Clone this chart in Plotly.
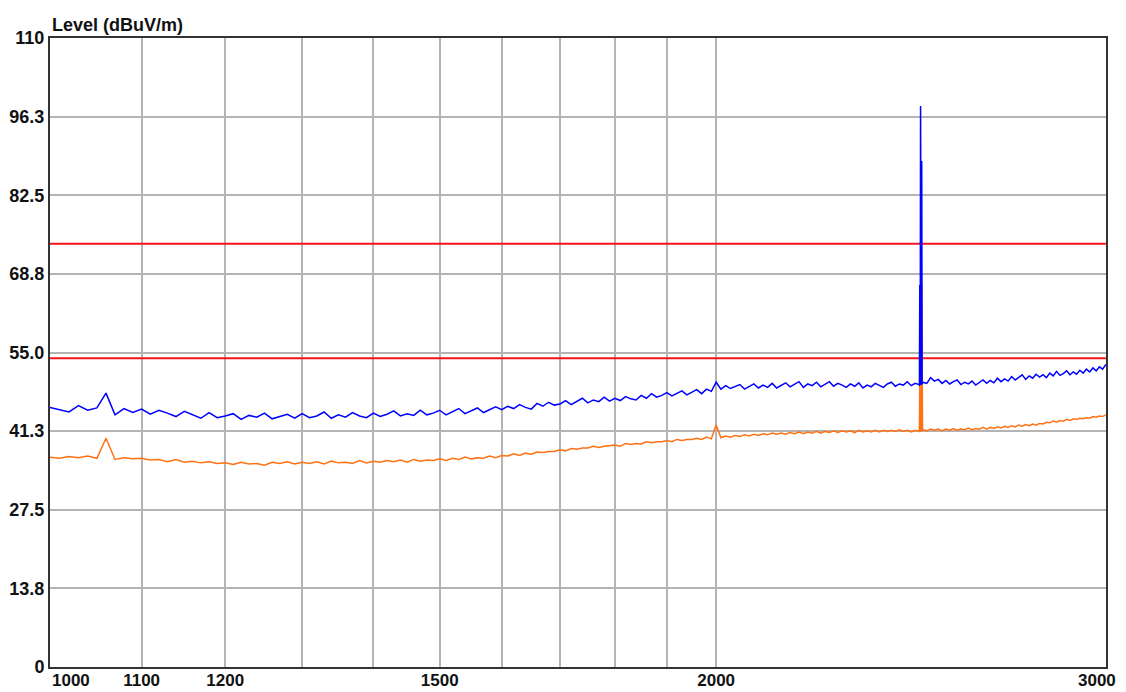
import numpy as np
import plotly.graph_objects as go

# ---------------- data ----------------
freq_start, freq_stop, freq_step = 1000, 3000, 10   # MHz sweep grid

# blue trace (peak), one value per 10 MHz from 1000 to 3000
blue_values = [
    45.4, 45.0, 44.6, 45.7, 44.9, 45.3, 47.9, 44.1, 45.2, 44.5,   # 1000
    45.1, 44.2, 44.9, 44.4, 43.8, 44.7, 44.1, 43.5, 44.5, 43.6,   # 1100
    43.9, 44.3, 43.3, 44.0, 43.7, 44.4, 43.4, 43.8, 44.2, 43.5,   # 1200
    44.3, 43.6, 43.9, 44.6, 43.5, 44.1, 43.7, 44.5, 43.9, 43.6,   # 1300
    44.4, 43.8, 44.2, 44.8, 43.9, 44.3, 44.0, 44.9, 44.1, 44.4,   # 1400
    44.9, 44.1, 44.6, 45.2, 44.3, 44.8, 45.3, 44.5, 45.0, 45.5,   # 1500
    45.0, 45.6, 45.2, 45.9, 45.4, 45.1, 46.1, 45.6, 46.3, 45.8,   # 1600
    46.0, 46.6, 45.9, 46.4, 47.0, 46.2, 46.7, 46.4, 47.2, 46.5,   # 1700
    47.0, 46.6, 47.3, 46.9, 46.7, 47.5, 47.0, 47.8, 47.2, 47.5,   # 1800
    48.0, 47.4, 47.9, 48.3, 47.6, 48.1, 48.5, 47.8, 48.6, 48.2,   # 1900
    49.8, 48.6, 49.2, 48.7, 49.0, 49.4, 48.6, 49.1, 49.5, 48.8,   # 2000
    49.3, 48.9, 49.6, 48.8, 49.2, 49.7, 49.0, 49.4, 49.9, 48.9,   # 2100
    49.5, 49.2, 49.8, 49.0, 49.4, 49.9, 49.1, 49.6, 49.3, 48.9,   # 2200
    49.5, 49.1, 49.7, 48.8, 49.3, 49.0, 49.6, 49.2, 48.9, 49.5,   # 2300
    49.8, 49.1, 49.5, 49.3, 49.9, 49.2, 49.6, 49.4, 49.8, 49.6,   # 2400
    50.6, 50.0, 50.3, 49.6, 50.1, 49.5, 49.9, 50.2, 49.4, 49.8,   # 2500
    49.5, 50.0, 49.3, 49.8, 50.2, 49.6, 50.1, 49.7, 50.5, 49.9,   # 2600
    50.4, 50.0, 50.8, 50.2, 50.6, 51.1, 50.3, 50.9, 50.5, 51.2,   # 2700
    50.7, 51.1, 50.6, 51.4, 50.9, 51.7, 51.0, 51.3, 51.8, 51.1,   # 2800
    51.6, 51.2, 51.9, 51.4, 52.1, 51.6, 52.3, 51.8, 52.5, 52.1,   # 2900
    52.9,                                                         # 3000
]

# orange trace (average), one value per 10 MHz from 1000 to 3000
orange_values = [
    36.7, 36.5, 36.8, 36.6, 36.9, 36.5, 40.0, 36.3, 36.6, 36.4,   # 1000
    36.5, 36.2, 36.3, 35.9, 36.3, 35.8, 36.0, 35.7, 35.9, 35.6,   # 1100
    35.7, 35.4, 35.8, 35.5, 35.6, 35.3, 35.8, 35.6, 35.9, 35.5,   # 1200
    35.8, 35.6, 35.9, 35.5, 36.0, 35.7, 35.8, 35.6, 36.1, 35.7,   # 1300
    36.0, 35.8, 36.1, 35.9, 36.2, 35.8, 36.3, 36.0, 36.2, 36.1,   # 1400
    36.4, 36.1, 36.5, 36.3, 36.7, 36.4, 36.6, 36.5, 36.9, 36.6,   # 1500
    37.0, 36.9, 37.3, 37.0, 37.4, 37.2, 37.6, 37.5, 37.7, 37.7,   # 1600
    38.0, 37.8, 38.2, 38.1, 38.3, 38.3, 38.6, 38.4, 38.6, 38.7,   # 1700
    38.8, 38.6, 39.1, 38.9, 39.1, 39.0, 39.4, 39.2, 39.4, 39.4,   # 1800
    39.6, 39.4, 39.8, 39.6, 39.8, 39.8, 40.0, 39.8, 40.2, 39.9,   # 1900
    42.3, 40.1, 40.4, 40.2, 40.5, 40.3, 40.6, 40.4, 40.7, 40.5,   # 2000
    40.8, 40.6, 40.9, 40.7, 40.9, 40.7, 41.0, 40.8, 41.1, 40.8,   # 2100
    41.1, 40.9, 41.2, 40.9, 41.2, 41.0, 41.3, 41.0, 41.3, 41.1,   # 2200
    41.3, 41.0, 41.4, 41.1, 41.3, 41.1, 41.4, 41.1, 41.4, 41.2,   # 2300
    41.4, 41.2, 41.5, 41.2, 41.4, 41.1, 41.4, 41.2, 41.5, 41.3,   # 2400
    41.6, 41.4, 41.6, 41.3, 41.6, 41.4, 41.7, 41.4, 41.6, 41.5,   # 2500
    41.8, 41.5, 41.7, 41.6, 41.9, 41.6, 41.9, 41.7, 42.0, 41.8,   # 2600
    42.1, 41.9, 42.2, 42.0, 42.3, 42.1, 42.4, 42.2, 42.5, 42.3,   # 2700
    42.6, 42.5, 42.8, 42.7, 43.0, 42.8, 43.1, 43.0, 43.3, 43.1,   # 2800
    43.4, 43.3, 43.5, 43.4, 43.6, 43.5, 43.8, 43.7, 43.9, 43.8,   # 2900
    44.1,                                                         # 3000
]

# narrow emission around 2.47-2.48 GHz (extra sweep points)
spike_freq = [2471, 2472, 2473, 2474, 2475, 2476, 2477, 2478, 2479]
blue_spike = [49.2, 66.8, 49.3, 98.1, 49.4, 49.3, 88.5, 49.5, 49.6]
orange_spike = [41.2, 49.7, 41.3, 41.2, 41.3, 41.3, 66.8, 41.4, 41.3]

# limit lines (dBuV/m)
limit_freq = [1000, 3000]
limit_peak = [74.0, 74.0]
limit_avg = [54.0, 54.0]

# axes ticks
x_tickvals = [1000, 1100, 1200, 1300, 1400, 1500, 1600, 1700, 1800, 1900, 2000, 3000]
x_ticktext = ["", "1100", "1200", "", "", "1500", "", "", "", "", "2000", ""]
x_edge_labels = ["1000", "3000"]   # drawn as annotations so they stay inside the page
y_tickvals = [0, 13.75, 27.5, 41.25, 55.0, 68.75, 82.5, 96.25, 110]
y_ticktext = ["0", "13.8", "27.5", "41.3", "55.0", "68.8", "82.5", "96.3", "110"]

# ---------------- build ----------------
grid_freq = list(range(freq_start, freq_stop + 1, freq_step))
assert len(grid_freq) == len(blue_values) == len(orange_values)

f_all = np.array(grid_freq + spike_freq, dtype=float)
order = np.argsort(f_all, kind="stable")
f_all = f_all[order]
blue_all = np.array(blue_values + blue_spike)[order]
orange_all = np.array(orange_values + orange_spike)[order]

FONT = "Liberation Sans, Arial, sans-serif"
RED = "#f5141e"
BLUE = "#0000ff"
ORANGE = "#ff7214"
TXT = "#111111"

fig = go.Figure()
fig.add_trace(go.Scatter(x=limit_freq, y=limit_peak, mode="lines",
                         line=dict(color=RED, width=2), hoverinfo="skip"))
fig.add_trace(go.Scatter(x=limit_freq, y=limit_avg, mode="lines",
                         line=dict(color=RED, width=2), hoverinfo="skip"))
fig.add_trace(go.Scatter(x=f_all, y=orange_all, mode="lines",
                         line=dict(color=ORANGE, width=1.5)))
fig.add_trace(go.Scatter(x=f_all, y=blue_all, mode="lines",
                         line=dict(color=BLUE, width=1.5)))

# page body adds an 8 px offset at top/left, so the figure is 8 px smaller
fig.update_layout(
    width=1118, height=684,
    margin=dict(l=42, r=20, t=30, b=25),
    paper_bgcolor="white", plot_bgcolor="white",
    showlegend=False,
    font=dict(family=FONT, size=18, color=TXT),
    xaxis=dict(
        type="log", range=[np.log10(1000), np.log10(3000.5)],
        tickvals=x_tickvals, ticktext=x_ticktext,
        tickfont=dict(family=FONT, size=17, color=TXT, weight="bold"),
        ticklabelstandoff=-3,
        showgrid=True, gridcolor="#b4b4b4", gridwidth=1.5,
        showline=True, linecolor="#333333", linewidth=2, mirror=True,
        ticks="", zeroline=False, automargin=False,
    ),
    yaxis=dict(
        range=[0, 110],
        tickvals=y_tickvals, ticktext=y_ticktext,
        tickfont=dict(family=FONT, size=18, color=TXT, weight="bold"),
        showgrid=True, gridcolor="#b4b4b4", gridwidth=1.5,
        showline=True, linecolor="#333333", linewidth=2, mirror=True,
        ticks="", zeroline=False, automargin=False,
    ),
    annotations=[
        dict(text="<b>Level (dBuV/m)</b>", xref="paper", yref="paper",
             x=0, y=1, xanchor="left", yanchor="bottom", showarrow=False,
             font=dict(family=FONT, size=18, color=TXT), yshift=1),
        dict(text="<b>%s</b>" % x_edge_labels[0], xref="paper", yref="paper",
             x=0, y=0, xanchor="left", yanchor="top", showarrow=False,
             font=dict(family=FONT, size=17, color=TXT), yshift=-2),
        dict(text="<b>%s</b>" % x_edge_labels[1], xref="paper", yref="paper",
             x=1, y=0, xanchor="right", yanchor="top", showarrow=False,
             font=dict(family=FONT, size=17, color=TXT), yshift=-2, xshift=12),
    ],
)

fig.write_html("out.html")
